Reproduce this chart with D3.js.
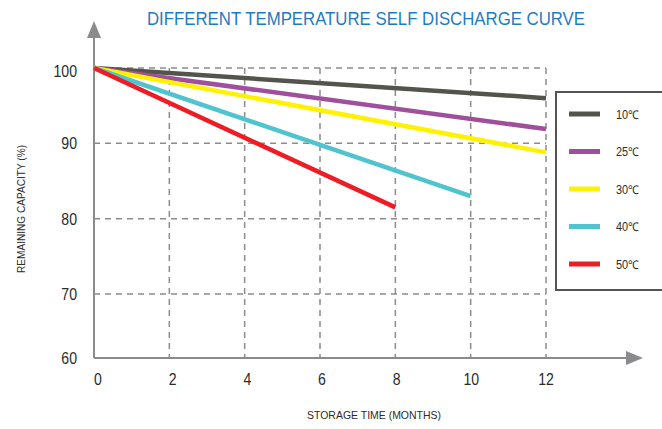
<!DOCTYPE html>
<html><head><meta charset="utf-8">
<script src="https://cdn.jsdelivr.net/npm/d3@7"></script>
<style>body{margin:0;background:#fff}svg{display:block}</style>
</head><body><svg id="c" width="662" height="429"></svg>
<script>
const temps = ["10℃", "25℃", "30℃", "40℃", "50℃"];
const colors = ["#54544c", "#a04f9c", "#fff200", "#4fc4cf", "#ee1d25"];
const seriesMonths = [[0, 12], [0, 12], [0, 12], [0, 10], [0, 8]];
const seriesValues = [[100, 96], [100, 91.9], [100, 88.8], [100, 83], [100, 81.5]];
const xTicks = [0, 2, 4, 6, 8, 10, 12];
const yTicks = [60, 70, 80, 90, 100];
const title = "DIFFERENT TEMPERATURE SELF DISCHARGE CURVE";

const svg = d3.select("#c");
const font = "'Liberation Sans',Arial,sans-serif";
const x = d3.scaleLinear().domain([0, 12]).range([94, 546]);
const xLab = d3.scaleLinear().domain([0, 12]).range([98, 546]);
const y = d3.scaleLinear().domain([60, 70, 100]).range([358, 294, 68]);
const axisCol = "#8b8b8d";

// grid
const g = svg.append("g");
xTicks.filter(d => d > 0).forEach(d => {
  g.append("line").attr("x1", x(d)).attr("x2", x(d)).attr("y1", y(100)).attr("y2", y(60))
    .attr("stroke", "#8c8c8c").attr("stroke-width", 1.5).attr("stroke-dasharray", "6,5");
});
yTicks.filter(d => d > 60).forEach(d => {
  g.append("line").attr("x1", x(0)).attr("x2", x(12)).attr("y1", y(d)).attr("y2", y(d))
    .attr("stroke", "#8c8c8c").attr("stroke-width", 1.5).attr("stroke-dasharray", "6,5");
});

// axes
svg.append("line").attr("x1", x(0)).attr("x2", x(0)).attr("y1", y(60)).attr("y2", 36)
  .attr("stroke", axisCol).attr("stroke-width", 2);
svg.append("path").attr("d", `M${x(0)-7},38 L${x(0)+7},38 L${x(0)},21 Z`).attr("fill", axisCol);
svg.append("line").attr("x1", x(0)).attr("x2", 628).attr("y1", y(60)).attr("y2", y(60))
  .attr("stroke", axisCol).attr("stroke-width", 2);
svg.append("path").attr("d", `M626,${y(60)-7} L626,${y(60)+7} L643,${y(60)} Z`).attr("fill", axisCol);

// tick labels (condensed)
svg.selectAll(".yt").data(yTicks).join("text")
  .attr("transform", d => `translate(77,${y(d) + (d === 100 ? 9 : 6)}) scale(0.88,1)`)
  .attr("text-anchor", "end").attr("font-family", font).attr("font-size", 16).attr("fill", "#2b2b2b").text(d => d);
svg.selectAll(".xt").data(xTicks).join("text")
  .attr("transform", d => `translate(${xLab(d)},385) scale(0.88,1)`)
  .attr("text-anchor", "middle").attr("font-family", font).attr("font-size", 16).attr("fill", "#2b2b2b").text(d => d);

// axis titles
svg.append("text").attr("transform", "translate(25,209) rotate(-90)").attr("text-anchor", "middle")
  .attr("font-family", font).attr("font-size", 11).attr("fill", "#2b2b2b")
  .attr("textLength", 128).attr("lengthAdjust", "spacingAndGlyphs").text("REMAINING CAPACITY (%)");
svg.append("text").attr("x", 374).attr("y", 419).attr("text-anchor", "middle")
  .attr("font-family", font).attr("font-size", 11.5).attr("fill", "#2b2b2b")
  .attr("textLength", 134).attr("lengthAdjust", "spacingAndGlyphs").text("STORAGE TIME (MONTHS)");

// title
svg.append("text").attr("x", 366).attr("y", 25).attr("text-anchor", "middle")
  .attr("font-family", font).attr("font-size", 19).attr("fill", "#1f7bc1")
  .attr("textLength", 438).attr("lengthAdjust", "spacingAndGlyphs").text(title);

// lines
const line = d3.line().x(d => x(d[0])).y(d => y(d[1]));
temps.forEach((t, i) => {
  const pts = seriesMonths[i].map((m, j) => [m, seriesValues[i][j]]);
  svg.append("path").attr("d", line(pts)).attr("fill", "none")
    .attr("stroke", colors[i]).attr("stroke-width", 4.5);
});

// legend
svg.append("rect").attr("x", 556).attr("y", 92).attr("width", 120).attr("height", 198)
  .attr("fill", "#fff").attr("stroke", "#555").attr("stroke-width", 2);
temps.forEach((t, i) => {
  const ly = 114 + i * 37.5;
  svg.append("line").attr("x1", 569).attr("x2", 600).attr("y1", ly).attr("y2", ly)
    .attr("stroke", colors[i]).attr("stroke-width", 5);
  svg.append("text").attr("x", 616).attr("y", ly + 4.5).attr("font-family", font)
    .attr("font-size", 12).attr("fill", "#2b2b2b")
    .attr("textLength", 23).attr("lengthAdjust", "spacingAndGlyphs").text(t);
});
</script></body></html>
